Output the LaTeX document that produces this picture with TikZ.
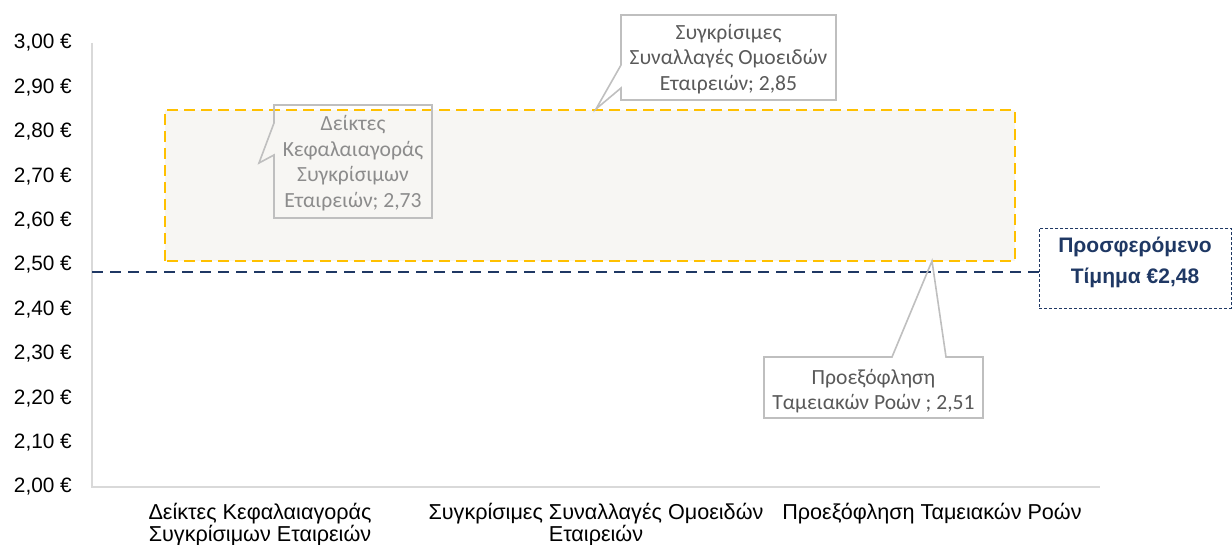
\documentclass[tikz,border=0pt]{standalone}
\usepackage{fontspec}
\setmainfont{Liberation Sans}
\newfontfamily\calfont{Carlito}
\definecolor{axisgray}{HTML}{D9D9D9}
\definecolor{gold}{HTML}{FFC000}
\definecolor{navy}{HTML}{1F3864}
\definecolor{beige}{HTML}{F7F6F3}
\definecolor{callgray}{HTML}{BFBFBF}
\definecolor{lighttext}{HTML}{8C8C8C}
\definecolor{darktext}{HTML}{595959}
\begin{document}
\begin{tikzpicture}[x=1pt,y=-1pt,
  ticklbl/.style={anchor=east,font=\fontsize{20.8}{23}\selectfont,inner sep=0pt},
  catlbl/.style={align=center,font=\fontsize{21.6}{22.5}\selectfont,inner sep=0pt},
  calltxt/.style={align=center,font=\calfont\fontsize{21.6}{25.5}\selectfont,inner sep=0pt},
  callout/.style={draw=callgray,line width=1.6pt,line join=miter},
  axisline/.style={draw=axisgray,line width=1.2pt}]
\useasboundingbox (0,0) rectangle (1232,545);
% axes
\draw[axisline] (92,43) -- (92,487) -- (1100,487);
% tick labels
\node[ticklbl] (t0) at (72,487) {2,00 €};
\node[ticklbl] (t1) at (72,442.6) {2,10 €};
\node[ticklbl] (t2) at (72,398.2) {2,20 €};
\node[ticklbl] (t3) at (72,353.8) {2,30 €};
\node[ticklbl] (t4) at (72,309.4) {2,40 €};
\node[ticklbl] (t5) at (72,265) {2,50 €};
\node[ticklbl] (t6) at (72,220.6) {2,60 €};
\node[ticklbl] (t7) at (72,176.2) {2,70 €};
\node[ticklbl] (t8) at (72,131.8) {2,80 €};
\node[ticklbl] (t9) at (72,87.4) {2,90 €};
\node[ticklbl] (t10) at (72,43) {3,00 €};
% category labels
\node[catlbl,anchor=north] (c1) at (260,503) {Δείκτες Κεφαλαιαγοράς\\Συγκρίσιμων Εταιρειών};
\node[catlbl,anchor=north] (c2) at (596,503) {Συγκρίσιμες Συναλλαγές Ομοειδών\\Εταιρειών};
\node[catlbl,anchor=north] (c3) at (932,503) {Προεξόφληση Ταμειακών Ροών};
% range rectangle
\path[fill=beige] (165,110) rectangle (1015,261);
\draw[gold,line width=2.6pt,dash pattern=on 11pt off 6pt] (165,261) -- (165,110) -- (1015,110) -- (1015,261) -- cycle;
% offered price
\node[draw=navy,densely dashed,line width=0.9pt,minimum width=192pt,minimum height=80pt,anchor=north west,inner sep=0pt]
  (price) at (1039,228) {};
\node[align=center,text=navy,font=\bfseries\fontsize{21}{31}\selectfont,inner sep=0pt]
  (pricetxt) at (1135,262.5) {Προσφερόμενο\\Τίμημα €2,48};
\coordinate (navystart) at (92,272);
\draw[navy,line width=2.6pt,dash pattern=on 11pt off 7pt] (navystart) -- (navystart -| price.west);
% callout 1
\draw[callout] (274,123) -- (274,105) -- (432,105) -- (432,218) -- (274,218) -- (274,155) -- (259,163) -- cycle;
\node[calltxt,text=lighttext] (k1) at (353,163) {Δείκτες\\Κεφαλαιαγοράς\\Συγκρίσιμων\\Εταιρειών; 2,73};
% callout 2
\draw[callout] (621,65) -- (621,15) -- (836,15) -- (836,100) -- (621,100) -- (621,88) -- (596,109) -- cycle;
\node[calltxt,text=darktext] (k2) at (728.5,59) {Συγκρίσιμες\\Συναλλαγές Ομοειδών\\Εταιρειών; 2,85};
% callout 3
\draw[callout] (892,357) -- (764,357) -- (764,418) -- (983,418) -- (983,357) -- (946,357) -- (932,261) -- cycle;
\node[calltxt,text=darktext] (k3) at (873.5,391) {Προεξόφληση\\Ταμειακών Ροών ; 2,51};
\end{tikzpicture}
\end{document}
